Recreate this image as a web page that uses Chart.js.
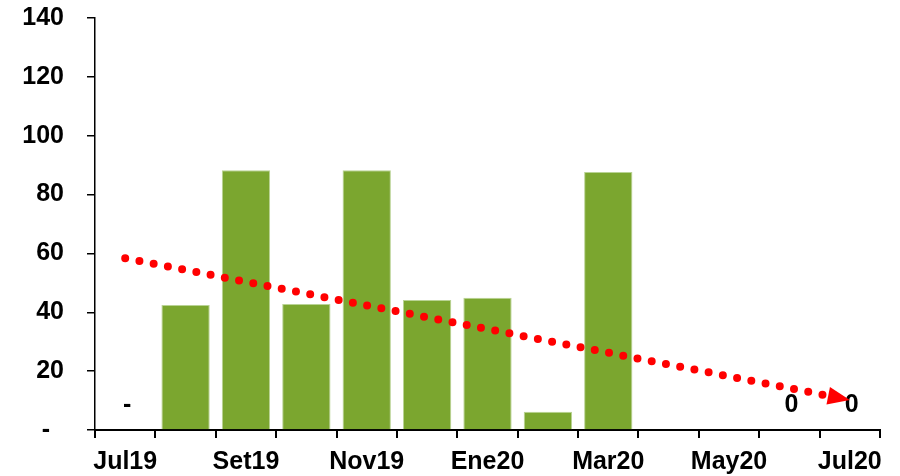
<!DOCTYPE html>
<html>
<head>
<meta charset="utf-8">
<script src="https://cdn.jsdelivr.net/npm/chart.js@4/dist/chart.umd.min.js"></script>
<style>
  html, body { margin: 0; padding: 0; background: #fff; }
  #wrap { width: 900px; height: 476px; position: relative; }
</style>
</head>
<body>
<div id="wrap"><canvas id="c"></canvas></div>
<script>
const categories = ['Jul19','Ago19','Set19','Oct19','Nov19','Dic19','Ene20','Feb20','Mar20','Abr20','May20','Jun20','Jul20'];
const barValues = [0, 42.5, 88.3, 42.8, 88.3, 44.2, 44.9, 6.2, 87.7, null, null, 0, 0];
const barLabels = ['-', '', '', '', '', '', '', '', '', '', '', '0', '0'];
const trendValues = [58.4, null, null, null, null, null, null, null, null, null, null, null, 10.2];
const yTicks = [0, 20, 40, 60, 80, 100, 120, 140];

const FONT = "'Liberation Sans', Arial, sans-serif";

const labelPlugin = {
  id: 'barLabels',
  afterDatasetsDraw(chart) {
    const ctx = chart.ctx;
    const meta = chart.getDatasetMeta(0);
    const yScale = chart.scales.y;
    ctx.save();
    ctx.font = 'bold 25px ' + FONT;
    ctx.fillStyle = '#000';
    ctx.textAlign = 'center';
    ctx.textBaseline = 'alphabetic';
    meta.data.forEach((el, i) => {
      const t = barLabels[i];
      if (!t) return;
      const y = yScale.getPixelForValue(barValues[i] || 0);
      ctx.fillText(t, el.x + 2, y - 18);
    });
    ctx.restore();
  }
};

const arrowPlugin = {
  id: 'trendArrow',
  afterDatasetsDraw(chart) {
    const meta = chart.getDatasetMeta(1);
    const pts = meta.data.filter((p, i) => trendValues[i] !== null);
    if (pts.length < 2) return;
    const a = pts[0], b = pts[pts.length - 1];
    const ang = Math.atan2(b.y - a.y, b.x - a.x);
    const ctx = chart.ctx;
    const L = 22, W = 9;
    ctx.save();
    ctx.translate(b.x, b.y);
    ctx.rotate(ang);
    ctx.beginPath();
    ctx.moveTo(0, 0);
    ctx.lineTo(-L, -W);
    ctx.lineTo(-L, W);
    ctx.closePath();
    ctx.fillStyle = '#FF0000';
    ctx.fill();
    ctx.restore();
  }
};

new Chart(document.getElementById('c'), {
  data: {
    labels: categories,
    datasets: [
      {
        type: 'bar',
        data: barValues,
        backgroundColor: '#7BA62F',
        borderColor: '#B9D394',
        borderWidth: 1,
        barPercentage: 0.8,
        categoryPercentage: 1.0,
        order: 2
      },
      {
        type: 'line',
        data: trendValues,
        spanGaps: true,
        borderColor: '#FF0000',
        borderWidth: 8,
        borderDash: [0, 14.5],
        borderCapStyle: 'round',
        pointRadius: 0,
        fill: false,
        order: 1
      }
    ]
  },
  plugins: [labelPlugin, arrowPlugin],
  options: {
    responsive: true,
    maintainAspectRatio: false,
    animation: false,
    devicePixelRatio: 1,
    layout: { padding: { left: 0, right: 20, top: 18, bottom: 0 } },
    plugins: { legend: { display: false }, tooltip: { enabled: false } },
    scales: {
      x: {
        offset: true,
        grid: { display: true, drawOnChartArea: false, drawTicks: true, tickLength: 8, offset: true, color: '#000', lineWidth: 2 },
        border: { display: true, color: '#000', width: 2 },
        ticks: {
          autoSkip: false,
          maxRotation: 0,
          padding: 9,
          color: '#000',
          font: { family: FONT, size: 25, weight: 'bold' },
          callback: function(v, i) { return i % 2 === 0 ? categories[i] : ''; }
        },
        afterFit(scale) { scale.height = 46; scale.paddingLeft = 0; scale.paddingRight = 0; }
      },
      y: {
        min: 0,
        max: 140,
        afterBuildTicks(scale) { scale.ticks = yTicks.map(v => ({ value: v })); },
        grid: { display: true, drawOnChartArea: false, drawTicks: true, tickLength: 8, color: '#000', lineWidth: 1.5 },
        border: { display: true, color: '#000', width: 1.5 },
        ticks: {
          padding: 23,
          color: '#000',
          font: { family: FONT, size: 25, weight: 'bold' },
          callback: function(v) { return v === 0 ? '-  ' : v; }
        },
        afterFit(scale) { scale.width = 95; scale.paddingTop = 0; scale.paddingBottom = 0; }
      }
    }
  }
});
</script>
</body>
</html>
